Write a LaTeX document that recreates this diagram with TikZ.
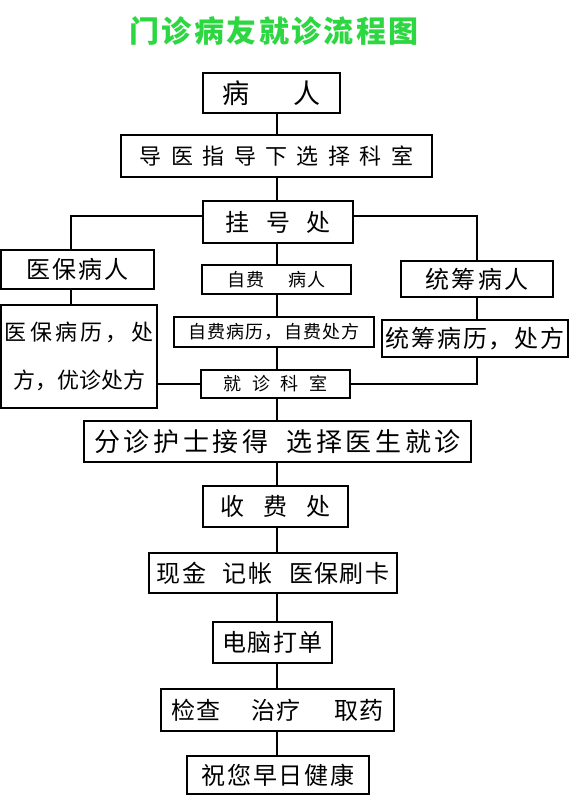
\documentclass[tikz,border=0pt]{standalone}
\usepackage{fontspec}
\setmainfont{Noto Sans CJK SC}
\definecolor{titlegreen}{RGB}{45,215,65}
\newlength\cjkgap
\newcommand\gap[1]{\setlength\cjkgap{#1em}}
\makeatletter
\count@="4E00
\loop\ifnum\count@<"A000 \XeTeXcharclass\count@=7 \advance\count@ 1 \repeat
\makeatother
\XeTeXcharclass"FF0C=7
\XeTeXinterchartokenstate=1
\XeTeXinterchartoks 7 7 = {\kern\cjkgap}

\begin{document}
\begin{tikzpicture}[x=1pt, y=-1pt,
    box/.style 2 args={draw, line width=1.6pt, inner sep=0pt, minimum width=#1, minimum height=#2},
    link/.style={line width=1.6pt}]
            \useasboundingbox (0,0) rectangle (569,801);

            % title
            \node (title) at (274,31) [font=\fontsize{30}{30}\selectfont\bfseries, text=titlegreen] {\gap{.08}门诊病友就诊流程图};

            % main column
            \node[box={137pt}{40pt}, font=\fontsize{27}{30}\selectfont] (bingren) at (271.5,93) {病\hspace{1.6em}人};
            \node[box={311pt}{42pt}, font=\fontsize{22}{26}\selectfont] (daoyi) at (276.5,156) {\gap{.43}导医指导下选择科室};
            \node[box={150pt}{42pt}, font=\fontsize{24}{28}\selectfont] (guahao) at (278,222) {\gap{.69}挂号处};
            \node[box={149pt}{29pt}, font=\fontsize{18}{20}\selectfont] (zifei) at (276.5,279.5) {\gap{.08}自费\hspace{1.3em}病人};
            \node[box={200pt}{30pt}, font=\fontsize{18}{20}\selectfont] (zifeili) at (274,332) {\gap{.06}自费病历，自费处方};
            \node[box={149pt}{28pt}, font=\fontsize{18}{20}\selectfont] (jiuzhen) at (275.5,384) {\gap{.6}就诊科室};
            \node[box={387pt}{41pt}, font=\fontsize{26}{30}\selectfont] (fenzhen) at (277.5,441.5) {\gap{.14}分诊护士接得\hspace{.7em}选择医生就诊};
            \node[box={145pt}{41pt}, font=\fontsize{24}{28}\selectfont] (shoufei) at (275.5,506.5) {\gap{.8}收费处};
            \node[box={248pt}{40pt}, font=\fontsize{24}{28}\selectfont] (xianjin) at (273,573) {\gap{.06}现金\hspace{.7em}记帐\hspace{.7em}医保刷卡};
            \node[box={119pt}{41pt}, font=\fontsize{24}{28}\selectfont] (diannao) at (272.5,642.5) {\gap{.05}电脑打单};
            \node[box={233pt}{42pt}, font=\fontsize{24}{28}\selectfont] (jiancha) at (277.5,710) {\gap{.05}检查\hspace{1.3em}治疗\hspace{1.4em}取药};
            \node[box={182pt}{38pt}, font=\fontsize{24}{28}\selectfont] (zhuyuan) at (278,775) {\gap{.08}祝您早日健康};

            % side columns
            \node[box={153pt}{39pt}, font=\fontsize{24}{28}\selectfont] (yibao) at (77.5,269.5) {\gap{.08}医保病人};
            \node[box={156pt}{103pt}, font=\fontsize{22}{48}\selectfont, align=center] (yibaoli) at (79,356.5) {\gap{.15}医保病历，处\\方，优诊处方};
            \node[box={152pt}{36pt}, font=\fontsize{24}{28}\selectfont] (tongchou) at (477,279) {\gap{.1}统筹病人};
            \node[box={186pt}{37pt}, font=\fontsize{24}{28}\selectfont] (tongchouli) at (475,338.5) {\gap{.07}统筹病历，处方};

            % connectors
            \coordinate (axis) at (277,0);
            \coordinate (lx) at (71,0);
            \foreach \a/\b in {bingren/daoyi, daoyi/guahao, guahao/zifei, zifei/zifeili, zifeili/jiuzhen,
                jiuzhen/fenzhen, fenzhen/shoufei, shoufei/xianjin, xianjin/diannao, diannao/jiancha, jiancha/zhuyuan}
                \draw[link] (\a.south -| axis) -- (\b.north -| axis);
            \draw[link] ([yshift=6pt]guahao.west) -| (yibao.north -| lx);
            \draw[link] (yibao.south -| lx) -- (yibaoli.north -| lx);
            \draw[link] (yibaoli.east |- jiuzhen.west) -- (jiuzhen.west);
            \draw[link] ([yshift=6pt]guahao.east) -| (tongchou.north);
            \draw[link] (tongchou.south) -- (tongchou.south |- tongchouli.north);
            \draw[link] (tongchou.south |- tongchouli.south) |- (jiuzhen.east);
        \end{tikzpicture}
\end{document}
